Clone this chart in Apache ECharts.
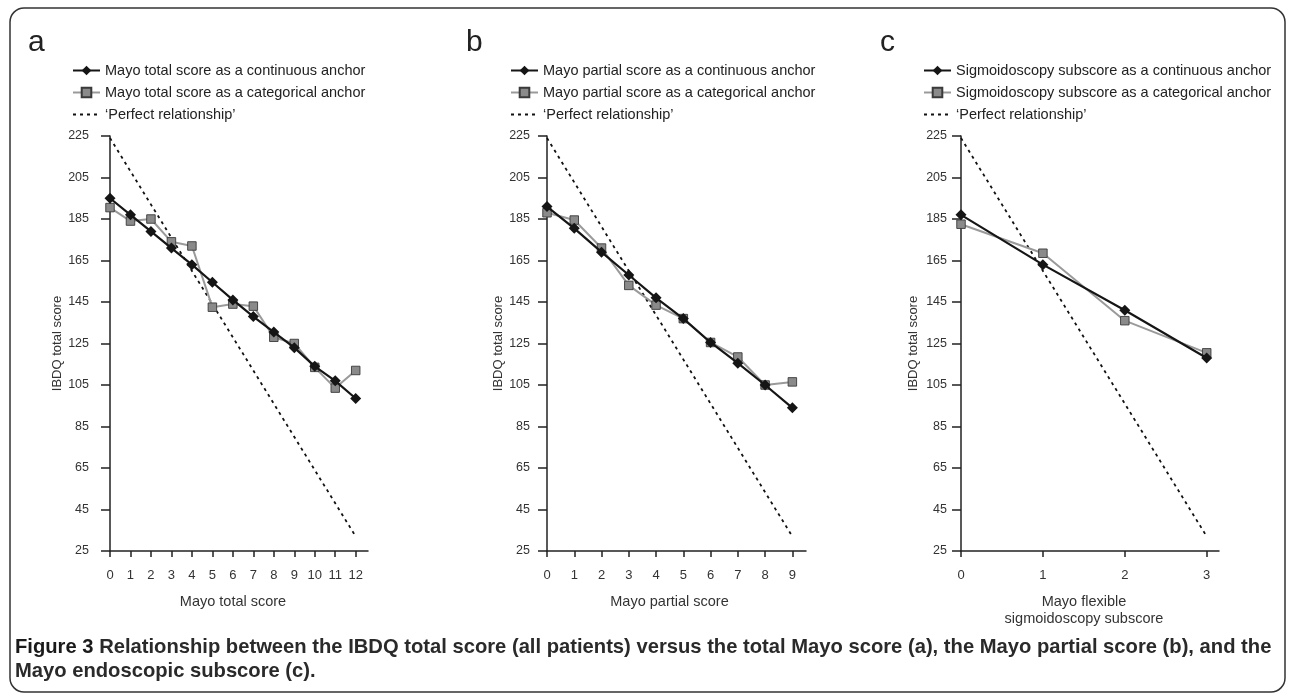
<!DOCTYPE html>
<html><head><meta charset="utf-8">
<script src="https://cdn.jsdelivr.net/npm/echarts@6/dist/echarts.min.js"></script>
<style>html,body{margin:0;padding:0;background:#fff}#c{width:1295px;height:700px}</style>
</head><body><div id="c"></div>
<script>
// ---- data ----
const scoreA = [0,1,2,3,4,5,6,7,8,9,10,11,12];
const continuousA = [195,187,179,171,163,154.5,146,138,130.5,123,114,107,98.5];
const categoricalA = [190.5,184,185,174,172,142.5,144,143,128,125,113.5,103.5,112];
const perfectA = [224,32];

const scoreB = [0,1,2,3,4,5,6,7,8,9];
const continuousB = [191,180.5,169,158,147,137,125.5,115.5,105,94];
const categoricalB = [188,184.5,171,153,143.5,137,125.5,118.5,105,106.5];
const perfectB = [224,32];

const scoreC = [0,1,2,3];
const continuousC = [187,163,141,118];
const categoricalC = [182.5,168.5,136,120.5];
const perfectC = [224,32];

const yTicks = [25,45,65,85,105,125,145,165,185,205,225];

const namesA = ['Mayo total score as a continuous anchor','Mayo total score as a categorical anchor'];
const namesB = ['Mayo partial score as a continuous anchor','Mayo partial score as a categorical anchor'];
const namesC = ['Sigmoidoscopy subscore as a continuous anchor','Sigmoidoscopy subscore as a categorical anchor'];
const perfectName = '\u2018Perfect relationship\u2019';
const xNames = ['Mayo total score','Mayo partial score','Mayo flexible\nsigmoidoscopy subscore'];
const yName = 'IBDQ total score';
const panelLetters = ['a','b','c'];
const captionLine1Bold = 'Figure 3';
const captionLine1 = ' Relationship between the IBDQ total score (all patients) versus the total Mayo score (a), the Mayo partial score (b), and the';
const captionLine2 = 'Mayo endoscopic subscore (c).';

// ---- build ----
const FONT = 'Liberation Sans, Arial, Helvetica, sans-serif';
const panels = [
  {xs: scoreA, cont: continuousA, cat: categoricalA, perf: perfectA, names: namesA, left: 110, width: 258, max: 12.6, legLeft: 67, letterX: 28, namePad: 12, yMargin: 21},
  {xs: scoreB, cont: continuousB, cat: categoricalB, perf: perfectB, names: namesB, left: 547, width: 259, max: 9.5, legLeft: 505, letterX: 466, namePad: 14, yMargin: 17},
  {xs: scoreC, cont: continuousC, cat: categoricalC, perf: perfectC, names: namesC, left: 961, width: 258, max: 3.15, legLeft: 918, letterX: 880, namePad: 12, yMargin: 14}
];
const pts = (xs, ys) => xs.map((x, i) => [x, ys[i]]);

const grid = [], xAxis = [], yAxis = [], series = [], legend = [], graphic = [];
panels.forEach((p, k) => {
  grid.push({left: p.left, width: p.width, top: 136, bottom: 149});
  xAxis.push({
    type: 'value', gridIndex: k, min: 0, max: p.max,
    name: xNames[k], nameLocation: 'middle', nameGap: 42,
    nameTextStyle: {fontSize: 14.5, color: '#333', fontFamily: FONT, padding: [0, p.namePad, 0, 0], lineHeight: 17},
    axisLine: {show: true, lineStyle: {color: '#222', width: 1.5}},
    axisTick: {show: true, length: 6, lineStyle: {color: '#222', width: 1.5}, customValues: p.xs},
    axisLabel: {fontSize: 13, color: '#333', margin: 18, fontFamily: FONT, customValues: p.xs},
    splitLine: {show: false}
  });
  yAxis.push({
    type: 'value', gridIndex: k, min: 25, max: 225,
    name: yName, nameLocation: 'middle', nameGap: 41, nameRotate: 90,
    nameTextStyle: {fontSize: 13, color: '#333', fontFamily: FONT},
    axisLine: {show: true, lineStyle: {color: '#222', width: 1.5}},
    axisTick: {show: true, length: 9, lineStyle: {color: '#222', width: 1.5}, customValues: yTicks},
    axisLabel: {fontSize: 12.5, color: '#333', margin: p.yMargin, fontFamily: FONT, customValues: yTicks},
    splitLine: {show: false}
  });
  const last = p.xs.length - 1;
  series.push({
    name: perfectName, type: 'line', xAxisIndex: k, yAxisIndex: k,
    data: [[p.xs[0], p.perf[0]], [p.xs[last], p.perf[1]]],
    symbol: 'none', lineStyle: {color: '#111', width: 1.8, type: [3, 4]}, itemStyle: {color: '#111'},
    z: 1, silent: true, animation: false
  });
  series.push({
    name: p.names[1], type: 'line', xAxisIndex: k, yAxisIndex: k,
    data: pts(p.xs, p.cat),
    symbol: 'rect', symbolSize: 8.5,
    lineStyle: {color: '#9a9a9a', width: 2},
    itemStyle: {color: '#8a8a8a', borderColor: '#3a3a3a', borderWidth: 0.9},
    z: 2, animation: false
  });
  series.push({
    name: p.names[0], type: 'line', xAxisIndex: k, yAxisIndex: k,
    data: pts(p.xs, p.cont),
    symbol: 'diamond', symbolSize: 11,
    lineStyle: {color: '#151515', width: 2.2},
    itemStyle: {color: '#151515'},
    z: 3, animation: false
  });
  legend.push({
    orient: 'vertical', left: p.legLeft, top: 58, itemWidth: 27, itemHeight: 12, itemGap: 7,
    selectedMode: false,
    data: [p.names[0], p.names[1], {name: perfectName, itemStyle: {opacity: 0}}],
    textStyle: {fontSize: 14.5, color: '#222', fontFamily: FONT}
  });
  graphic.push({
    type: 'text', left: p.letterX, top: 28,
    style: {text: panelLetters[k], fontSize: 30, fill: '#222', fontFamily: FONT}
  });
});

graphic.push({
  type: 'rect', shape: {x: 10, y: 8, width: 1275, height: 684, r: 14},
  style: {fill: 'none', stroke: '#333', lineWidth: 1.5}, z: -1
});
graphic.push({
  type: 'text', left: 15, top: 637,
  style: {
    text: '{b|' + captionLine1Bold + '}{n|' + captionLine1 + '}',
    rich: {
      b: {fontSize: 20.2, fontWeight: 'bold', fill: '#1a1a1a', fontFamily: FONT},
      n: {fontSize: 20.2, fontWeight: 'bold', fill: '#2a2a2a', fontFamily: FONT}
    }
  }
});
graphic.push({
  type: 'text', left: 15, top: 661,
  style: {text: captionLine2, fontSize: 20.2, fontWeight: 'bold', fill: '#2a2a2a', fontFamily: FONT}
});

const chart = echarts.init(document.getElementById('c'), null, {renderer: 'canvas'});
chart.setOption({
  backgroundColor: '#fff',
  animation: false,
  textStyle: {fontFamily: FONT},
  grid, xAxis, yAxis, series, legend, graphic
});
</script>
</body></html>
